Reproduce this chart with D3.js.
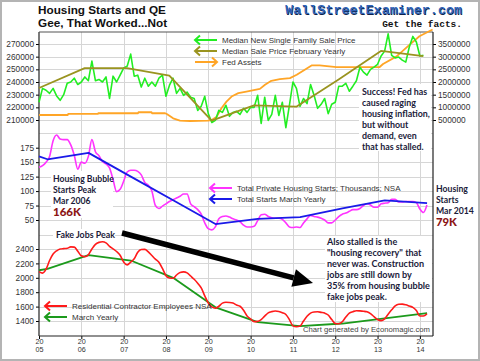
<!DOCTYPE html>
<html>
<head>
<meta charset="utf-8">
<script src="https://cdn.jsdelivr.net/npm/d3@7"></script>
<style>
  body { margin: 0; background: #fff; }
  svg { display: block; font-family: 'Liberation Sans', Arial, sans-serif; }
  .tick text { font-size: 8.3px; fill: #333; }
  .tick line { stroke: #000; }
  .tick text.year { font-size: 7.2px; }
  .legend { font-size: 8px; fill: #333; }
  .note { font-family: Lato, 'Open Sans', sans-serif; font-weight: bold; font-size: 9px; fill: #1b1b3a; }
  .big { font-family: Lato, 'Open Sans', sans-serif; font-weight: 900; font-size: 11.5px; fill: #8b1414; }
</style>
</head>
<body>
<div id="chart"></div>
<script>
// Tick labels
var years = [2005, 2006, 2007, 2008, 2009, 2010, 2011, 2012, 2013, 2014];
var topTicks = [210000, 220000, 230000, 240000, 250000, 260000, 270000];
var fedTicks = [500000, 1000000, 1500000, 2000000, 2500000, 3000000, 3500000];
var midTicks = [50, 75, 100, 125, 150, 175];
var botTicks = [1400, 1600, 1800, 2000, 2200, 2400];

// Median new single family sale price, monthly from Jan 2005
var salePrice = [224000, 235000, 233500, 231000, 235000, 229000, 225500, 230000, 239000, 240000,
  243000, 238000, 240000, 244000, 241000, 256500, 241000, 242000, 240000, 244000,
  227000, 244600, 240000, 245400, 251000, 252500, 262000, 244600, 245400, 236000,
  243000, 236700, 240000, 236700, 243000, 245400, 228700, 237500, 243000, 231000,
  235000, 229500, 232000, 228000, 227000, 217600, 220800, 228700, 215000, 208000,
  209700, 217600, 216000, 221600, 212900, 216000, 216800, 214400, 219200, 216000,
  220000, 220000, 229500, 207300, 228000, 209700, 214400, 229500, 213600, 224000,
  204000, 221600, 240000, 235000, 220800, 227000, 223000, 238000, 229500, 219200,
  222400, 227000, 215000, 222400, 224000, 236700, 236700, 239000, 232700, 236700,
  241000, 251700, 247800, 245400, 250000, 251700, 254000, 260500, 264400, 278000,
  261000, 259000, 259700, 257300, 255700, 267600, 276000, 271600, 260500, 261000];

// Median sale price, February yearly
var febDates = [2005.0, 2006.08, 2007.08, 2008.08, 2009.08, 2010.08, 2011.08, 2012.08, 2013.08, 2014.08];
var febPrice = [235300, 251000, 251000, 245000, 209500, 221500, 220500, 242000, 264500, 260500];

// Fed assets (right axis)
var fedDates = [2005.00, 2005.68, 2005.69, 2006.39, 2006.40, 2007.34, 2007.35, 2007.66, 2007.67, 2007.98,
  2008.02, 2008.17, 2008.33, 2008.57, 2008.99, 2009.08, 2009.20, 2009.31, 2009.43, 2009.55,
  2009.71, 2009.90, 2010.22, 2010.34, 2010.49, 2010.69, 2010.93, 2011.09, 2011.28, 2011.44,
  2011.63, 2012.03, 2013.05, 2013.13, 2013.45, 2013.76, 2013.99, 2014.30];
var fedAssets = [698000, 698000, 738000, 738000, 766000, 766000, 806000, 806000, 766000, 766000,
  738000, 567000, 472000, 460000, 472000, 500000, 631000, 964000, 1226000, 1425000,
  1560000, 1623000, 1730000, 1889000, 2048000, 2115000, 2155000, 2286000, 2484000, 2655000,
  2655000, 2591000, 2591000, 2710000, 3012000, 3476000, 3806000, 4071000];

// Total private housing starts (thousands, NSA), monthly from Jan 2005
var starts = [141, 144, 150, 160, 187, 197, 190, 189, 189, 180,
  162, 138, 150, 148, 160, 189, 168, 161, 151, 147,
  140, 120, 99, 103, 117, 133, 136, 136, 134, 128,
  115, 110, 100, 75, 70, 74, 78, 82, 85, 88,
  91, 95, 95, 78, 73, 68, 60, 45, 35, 33,
  38, 52, 56, 57, 55, 52, 50, 47, 41, 38,
  38, 39, 49, 59, 60, 56, 54, 53, 53, 51,
  45, 38, 37, 38, 37, 45, 52, 58, 56, 55,
  53, 50, 45, 45, 50, 56, 60, 62, 65, 68,
  68, 70, 75, 78, 76, 72, 72, 78, 79, 80,
  86, 86, 81, 81, 82, 82, 82, 80, 69, 63,
  76];

// March yearly points (starts and employees)
var marDates = [2005.0, 2005.2, 2006.17, 2007.17, 2008.17, 2009.17, 2010.17, 2011.17, 2012.17, 2013.17, 2014.17];
var marStarts = [160, 155, 166, 125, 84, 43, 52, 55, 70, 84, 79];
var marJobs = [2105, 2125, 2315, 2240, 2000, 1590, 1385, 1330, 1365, 1435, 1510];

// Residential contractor employees NSA, monthly from Jan 2005
var jobs = [2085, 2065, 2120, 2240, 2330, 2375, 2400, 2405, 2410, 2430,
  2426, 2370, 2305, 2293, 2320, 2400, 2465, 2492, 2500, 2485,
  2436, 2403, 2365, 2314, 2220, 2180, 2218, 2265, 2355, 2392,
  2395, 2360, 2310, 2260, 2215, 2130, 2030, 1998, 1993, 2039,
  2075, 2082, 2068, 2025, 1980, 1925, 1860, 1750, 1650, 1595,
  1578, 1605, 1648, 1660, 1658, 1650, 1622, 1605, 1550, 1470,
  1430, 1392, 1395, 1420, 1468, 1512, 1530, 1538, 1532, 1515,
  1490, 1420, 1332, 1320, 1330, 1400, 1465, 1510, 1525, 1528,
  1520, 1510, 1483, 1420, 1365, 1362, 1390, 1455, 1510, 1530,
  1543, 1540, 1535, 1527, 1502, 1460, 1420, 1405, 1430, 1495,
  1555, 1610, 1632, 1634, 1625, 1608, 1590, 1545, 1469, 1470,
  1500];

function init() {
  var w = 480;
  var h = 361;
  var left = 39, right = 433, top = 32, bottom = 336;

  var svg = d3.select('#chart').append('svg').attr('width', w).attr('height', h);

  svg.append('rect').attr('width', w).attr('height', h).attr('fill', '#fff');
  svg.append('rect')
    .attr('x', 1).attr('y', 1).attr('width', w - 2).attr('height', h - 2)
    .attr('fill', 'none').attr('stroke', '#b4b4b4').attr('stroke-width', 2);

  // Scales
  var x = d3.scaleLinear().domain([2005, 2014.31]).range([left, right]);
  var yTop = d3.scaleLinear().domain([210000, 270000]).range([120, 44]);
  var yFed = d3.scaleLinear().domain([500000, 3500000]).range([120, 44]);
  var yMid = d3.scaleLinear().domain([50, 175]).range([220, 147.7]);
  var yBot = d3.scaleLinear().domain([1400, 2400]).range([321, 249]);

  // Grid
  var grid = svg.append('g').attr('stroke', '#d6d6d6').attr('stroke-width', 1);
  years.slice(1).forEach(function (yr) {
    var gx = Math.round(x(yr)) + 0.5;
    grid.append('line').attr('x1', gx).attr('x2', gx).attr('y1', top).attr('y2', bottom);
  });
  var gridY = topTicks.map(yTop)
    .concat(midTicks.concat([200]).map(yMid))
    .concat(botTicks.concat([2600]).map(yBot));
  gridY.forEach(function (gy) {
    gy = Math.round(gy) + 0.5;
    grid.append('line').attr('x1', left).attr('x2', right).attr('y1', gy).attr('y2', gy);
  });

  // White boxes behind notes
  var boxes = svg.append('g').attr('fill', '#fff');
  boxes.append('rect').attr('x', 359).attr('y', 84).attr('width', 72).attr('height', 67);
  boxes.append('rect').attr('x', 51).attr('y', 171).attr('width', 62).attr('height', 47);
  boxes.append('rect').attr('x', 53).attr('y', 229).attr('width', 62).attr('height', 12);
  boxes.append('rect').attr('x', 325).attr('y', 236).attr('width', 107).attr('height', 66);

  // Axes
  function styleAxis(g) {
    g.select('.domain').remove();
    g.selectAll('.tick text').attr('fill', '#333');
  }
  svg.append('g').attr('transform', `translate(${left},0)`)
    .call(d3.axisLeft(yTop).tickValues(topTicks).tickSize(3).tickPadding(2).tickFormat(d3.format('d')))
    .call(styleAxis);
  svg.append('g').attr('transform', `translate(${left},0)`)
    .call(d3.axisLeft(yMid).tickValues(midTicks).tickSize(3).tickPadding(2))
    .call(styleAxis);
  svg.append('g').attr('transform', `translate(${left},0)`)
    .call(d3.axisLeft(yBot).tickValues(botTicks).tickSize(3).tickPadding(2).tickFormat(d3.format('d')))
    .call(styleAxis);
  svg.append('g').attr('transform', `translate(${right},0)`)
    .call(d3.axisRight(yFed).tickValues(fedTicks).tickSize(3).tickPadding(2).tickFormat(d3.format('d')))
    .call(styleAxis);

  // X axis: two-line year labels in one text
  var xAxis = svg.append('g').attr('transform', `translate(0,${bottom})`)
    .call(d3.axisBottom(x).tickValues(years).tickSize(3).tickFormat(''))
    .call(styleAxis);
  var yearText = xAxis.selectAll('.tick').append('text')
    .attr('class', 'year').attr('fill', '#333')
    .attr('text-anchor', 'middle').attr('y', 7.6);
  yearText.append('tspan').attr('x', 0).text('20');
  yearText.append('tspan').attr('x', 0).attr('dy', 8.6)
    .text(function (d) { return String(d).slice(2); });

  // Frame lines
  var frame = svg.append('g').attr('stroke', '#222').attr('stroke-width', 1.2);
  frame.append('line').attr('x1', left).attr('x2', left).attr('y1', top).attr('y2', bottom);
  frame.append('line').attr('x1', left).attr('x2', right).attr('y1', bottom).attr('y2', bottom);
  frame.append('line').attr('x1', left).attr('x2', right).attr('y1', top).attr('y2', top).attr('stroke', '#555');
  frame.append('line').attr('x1', right).attr('x2', right).attr('y1', top).attr('y2', bottom);

  // Box over right border for 2014 note
  svg.append('rect').attr('x', 434).attr('y', 123).attr('width', 44).attr('height', 113).attr('fill', '#fff');

  // Lines
  function monthX(d, i) { return x(2005 + i / 12); }

  function drawLine(values, xf, yScale, color, width, curve) {
    var line = d3.line().x(xf).y(function (d) { return yScale(d); });
    if (curve) line.curve(curve);
    svg.append('path').datum(values)
      .attr('fill', 'none').attr('stroke', color).attr('stroke-width', width)
      .attr('stroke-linejoin', 'round').attr('d', line);
  }
  function datesX(dates) {
    return function (d, i) { return x(dates[i]); };
  }

  drawLine(fedAssets, datesX(fedDates), yFed, '#ffa526', 1.8);
  drawLine(salePrice, monthX, yTop, '#22ee22', 1.6);
  drawLine(febPrice, datesX(febDates), yTop, '#9a9420', 1.8);

  drawLine(starts, monthX, yMid, '#ff33ff', 1.6, d3.curveMonotoneX);
  drawLine(marStarts, datesX(marDates), yMid, '#1a1ae8', 1.8);

  drawLine(marJobs, datesX(marDates), yBot, '#1c9a1c', 1.8);
  drawLine(jobs, monthX, yBot, '#ff1a1a', 1.6, d3.curveMonotoneX);

  // Legends
  function legend(x1, y, color, label, pointRight) {
    var x2 = x1 + 22;
    var g = svg.append('g');
    g.append('line').attr('x1', x1).attr('x2', x2).attr('y1', y).attr('y2', y)
      .attr('stroke', color).attr('stroke-width', 2);
    var tip = pointRight ? x2 : x1;
    var back = pointRight ? -5 : 5;
    g.append('polyline')
      .attr('points', `${tip + back},${y - 4.5} ${tip},${y} ${tip + back},${y + 4.5}`)
      .attr('fill', 'none').attr('stroke', color).attr('stroke-width', 2);
    g.append('text').attr('class', 'legend').attr('x', x2 + 5).attr('y', y + 3).text(label);
  }
  legend(195, 40, '#22ee22', 'Median New Single Family Sale Price');
  legend(195, 51, '#9a9420', 'Median Sale Price February Yearly');
  legend(195, 62, '#ffa526', 'Fed Assets', true);
  legend(210, 188, '#ff33ff', 'Total Private Housing Starts; Thousands; NSA');
  legend(210, 199, '#1a1ae8', 'Total Starts March Yearly');
  legend(45, 306, '#ff1a1a', 'Residential Contractor Employees NSA');
  legend(45, 317, '#1c9a1c', 'March Yearly');

  // Shrink or grow a text so one of its lines has the width seen in the reference
  function fitWidth(text, probe, target) {
    var fs = parseFloat(text.style('font-size'));
    var len = probe.node().getComputedTextLength();
    if (len > 0) text.style('font-size', (fs * target / len).toFixed(2) + 'px');
  }

  // Titles
  var t1 = svg.append('text').attr('x', 38).attr('y', 14)
    .attr('font-weight', 'bold').style('font-size', '12px').attr('fill', '#111')
    .text('Housing Starts and QE');
  fitWidth(t1, t1, 128);
  svg.append('text').attr('x', 38).attr('y', 26.5)
    .attr('font-weight', 'bold').style('font-size', t1.style('font-size')).attr('fill', '#111')
    .text('Gee, That Worked...Not');

  var brand = svg.append('g').attr('font-family', "'Liberation Mono', 'DejaVu Sans Mono', monospace")
    .attr('font-weight', 'bold');
  brand.append('text').attr('x', 462.6).attr('y', 14.6).attr('text-anchor', 'end')
    .attr('font-size', 13.4).attr('fill', '#0d1f4a').text('WallStreetExaminer.com');
  brand.append('text').attr('x', 462).attr('y', 14).attr('text-anchor', 'end')
    .attr('font-size', 13.4).attr('fill', '#2f63b8').text('WallStreetExaminer.com');
  brand.append('text').attr('x', 462).attr('y', 27).attr('text-anchor', 'end')
    .attr('font-size', 9.5).attr('fill', '#111').text('Get the facts.');

  // Notes
  function note(x0, y0, lines, step, probeIndex, target) {
    var t = svg.append('text').attr('class', 'note').attr('x', x0).attr('y', y0);
    var spans = lines.map(function (s, i) {
      return t.append('tspan').attr('x', x0).attr('dy', i ? step : 0).text(s);
    });
    fitWidth(t, spans[probeIndex], target);
    return t;
  }
  note(362, 95, ['Success! Fed has', 'caused raging', 'housing inflation,', 'but without',
    'demand, even', 'that has stalled.'], 11, 2, 68);
  note(53, 182, ['Housing Bubble', 'Starts Peak', 'Mar 2006'], 10.8, 0, 61);
  var k1 = svg.append('text').attr('class', 'big').attr('x', 53).attr('y', 216).text('166K');
  fitWidth(k1, k1, 28);
  note(436, 192, ['Housing', 'Starts', 'Mar 2014'], 10.8, 0, 32);
  var k2 = svg.append('text').attr('class', 'big').attr('x', 436).attr('y', 226).text('79K');
  fitWidth(k2, k2, 21);
  note(56, 238, ['Fake Jobs Peak'], 11, 0, 59);
  note(327, 245, ['Also stalled is the', '"housing recovery" that', 'never was. Construction',
    'jobs are still down by', '35% from housing bubble', 'fake jobs peak.'], 11, 4, 103);

  var credit = svg.append('text').attr('x', 303).attr('y', 332)
    .style('font-size', '7.8px').attr('fill', '#444')
    .text('Chart generated by Economagic.com');
  fitWidth(credit, credit, 127);

  // Big arrow
  var ax1 = 122, ay1 = 233, ax2 = 313, ay2 = 283;
  var ang = Math.atan2(ay2 - ay1, ax2 - ax1);
  var headLen = 20, headW = 9;
  var bx = ax2 - headLen * Math.cos(ang), by = ay2 - headLen * Math.sin(ang);
  svg.append('line').attr('x1', ax1).attr('y1', ay1).attr('x2', bx).attr('y2', by)
    .attr('stroke', '#000').attr('stroke-width', 5.5);
  svg.append('polygon')
    .attr('points', [
      [ax2, ay2],
      [bx + headW * Math.sin(ang), by - headW * Math.cos(ang)],
      [bx - headW * Math.sin(ang), by + headW * Math.cos(ang)]
    ].map(function (p) { return p.join(','); }).join(' '))
    .attr('fill', '#000');
}

window.onload = init;
</script>
</body>
</html>
